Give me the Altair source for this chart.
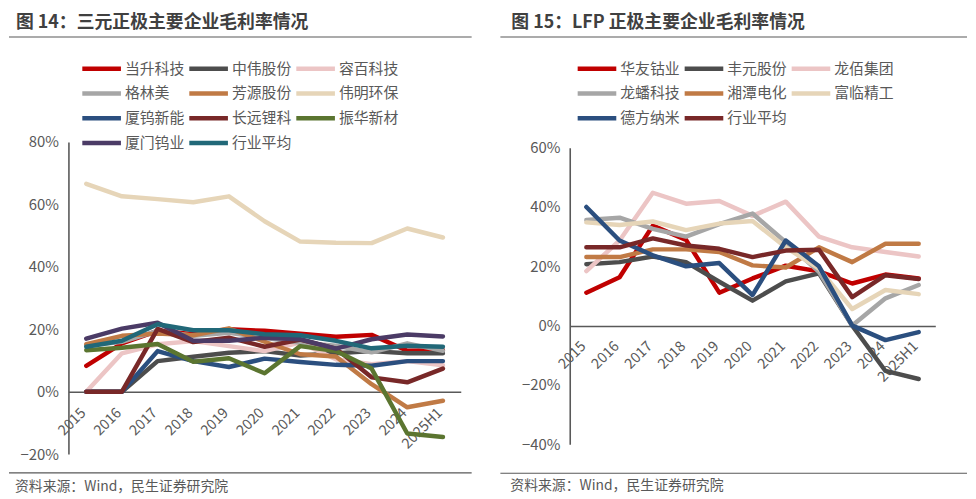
import altair as alt
import pandas as pd

FONT = "Noto Sans CJK SC"

years = ["2015", "2016", "2017", "2018", "2019", "2020", "2021", "2022", "2023", "2024", "2025H1"]

# ---------------- 图14 三元正极 ----------------
left_title = "图 14：三元正极主要企业毛利率情况"
left_names = ["当升科技", "中伟股份", "容百科技", "格林美", "芳源股份", "伟明环保",
              "厦钨新能", "长远锂科", "振华新材", "厦门钨业", "行业平均"]
left_colors = ["#C00000", "#4D4D4D", "#ECC5C5", "#A6A6A6", "#C07A45", "#E6D5B8",
               "#2B4F7F", "#782828", "#5B7530", "#4B3B66", "#216878"]
dangsheng = [8.3, 15.5, 19.5, 18.4, 20.0, 19.5, 18.6, 17.6, 18.2, 13.1, 13.3]
zhongwei = [0.0, 0.0, 9.8, 11.2, 12.5, 13.0, 11.6, 12.3, 13.0, 12.3, 12.3]
rongbai = [0.0, 12.3, 15.2, 16.2, 14.6, 13.0, 15.7, 10.4, 8.8, 9.8, 8.5]
gem = [14.7, 16.0, 19.5, 17.9, 18.9, 17.3, 15.7, 14.7, 12.6, 15.5, 13.1]
fangyuan = [15.2, 17.9, 18.6, 18.1, 20.3, 16.0, 12.0, 11.3, 2.4, -5.0, -2.9]
weiming = [66.6, 62.6, 61.7, 60.7, 62.6, 54.6, 48.1, 47.7, 47.6, 52.3, 49.4]
xiawu = [0.0, 0.0, 13.0, 9.8, 7.9, 10.6, 9.5, 8.6, 8.3, 9.8, 9.8]
changyuan = [0.0, 0.0, 20.1, 15.9, 17.3, 14.4, 16.7, 13.8, 4.6, 3.0, 7.4]
zhenhua = [13.3, 14.1, 15.3, 9.6, 10.7, 5.9, 14.6, 13.0, 7.4, -13.4, -14.5]
xiamen = [17.0, 20.2, 22.1, 16.3, 16.3, 17.3, 16.8, 13.8, 16.8, 18.3, 17.7]
left_avg = [14.4, 16.3, 21.6, 19.7, 19.7, 18.4, 18.1, 16.3, 13.9, 14.7, 14.4]
left_series = [dangsheng, zhongwei, rongbai, gem, fangyuan, weiming,
               xiawu, changyuan, zhenhua, xiamen, left_avg]
left_ticks = [-0.2, 0.0, 0.2, 0.4, 0.6, 0.8]

# ---------------- 图15 LFP 正极 ----------------
right_title = "图 15：LFP 正极主要企业毛利率情况"
right_names = ["华友钴业", "丰元股份", "龙佰集团", "龙蟠科技", "湘潭电化", "富临精工",
               "德方纳米", "行业平均"]
right_colors = ["#C00000", "#4D4D4D", "#ECC5C5", "#A6A6A6", "#C07A45", "#E6D5B8",
                "#2B4F7F", "#782828"]
huayou = [11.1, 16.3, 33.7, 28.9, 11.1, 15.9, 20.2, 18.3, 14.2, 17.2, 15.9]
fengyuan = [20.7, 21.4, 23.3, 21.4, 14.8, 8.4, 14.9, 17.6, 0.0, -15.3, -18.0]
longbai = [18.4, 28.7, 44.8, 41.1, 42.0, 37.0, 41.8, 30.0, 26.4, 24.8, 23.3]
longpan = [35.6, 36.4, 32.6, 30.0, 34.2, 37.8, 28.1, 18.1, 0.0, 9.2, 13.7]
xiangtan = [23.1, 23.1, 25.7, 25.7, 24.8, 20.3, 19.6, 26.4, 21.4, 27.6, 27.6]
fulin = [34.8, 33.9, 35.1, 32.2, 34.4, 35.3, 26.4, 19.2, 5.6, 12.0, 10.6]
defang = [40.0, 28.7, 23.7, 20.0, 21.1, 10.3, 28.7, 20.0, 0.0, -4.9, -2.2]
right_avg = [26.4, 26.4, 29.4, 27.0, 25.9, 23.1, 25.3, 25.6, 9.6, 17.0, 15.7]
right_series = [huayou, fengyuan, longbai, longpan, xiangtan, fulin, defang, right_avg]
right_ticks = [-0.4, -0.2, 0.0, 0.2, 0.4, 0.6]

source_text = "资料来源：Wind，民生证券研究院"


def long_df(names, series):
    rows = []
    for i, (n, vals) in enumerate(zip(names, series)):
        for y, v in zip(years, vals):
            rows.append({"name": n, "year": y, "value": v / 100.0, "k": i})
    return pd.DataFrame(rows)


def panel(title, names, colors, series, ticks, width, height, yrange, x_offset,
          title_xy, rule_x, rule_top, rule_bot, src_xy, legend_xy, label_pad):
    df = long_df(names, series)
    lines = alt.Chart(df).mark_line(strokeWidth=4.5, strokeJoin="round", strokeCap="round").encode(
        x=alt.X("year:N", sort=years,
                scale=alt.Scale(type="point", padding=0.5),
                axis=alt.Axis(title=None, labelAngle=-45, labelAlign="right", labelBaseline="middle",
                              offset=x_offset, ticks=False, labelPadding=label_pad, labelOffset=-3,
                              labelOverlap=False,
                              domainColor="#595959", domainWidth=1.6,
                              labelFont=FONT, labelFontSize=14.5, labelColor="#595959")),
        y=alt.Y("value:Q",
                scale=alt.Scale(domain=[ticks[0], ticks[-1]], nice=False, zero=False, range=yrange),
                axis=alt.Axis(title=None, values=ticks, format=".0%", grid=False, ticks=False,
                              labelPadding=10, domainColor="#595959", domainWidth=1.6,
                              labelFont=FONT, labelFontSize=15, labelColor="#595959")),
        color=alt.Color("name:N", sort=names,
                        scale=alt.Scale(domain=names, range=colors),
                        legend=alt.Legend(title=None, orient="none", direction="horizontal",
                                          legendX=legend_xy[0], legendY=legend_xy[1],
                                          columns=3, symbolType="M-2,0H2", symbolSize=380,
                                          symbolStrokeWidth=4.5, labelFont=FONT,
                                          labelFontSize=15, labelColor="#595959",
                                          labelOffset=11.5, columnPadding=-5, rowPadding=4,
                                          padding=0)),
        detail="k:O",
    )
    one = pd.DataFrame({"t": [title], "s": [source_text]})
    ttl = alt.Chart(one).mark_text(font=FONT, fontSize=18, fontWeight="bold", color="#404040",
                                   align="left", baseline="middle").encode(
        x=alt.value(title_xy[0]), y=alt.value(title_xy[1]), text="t:N")
    src = alt.Chart(one).mark_text(font=FONT, fontSize=14, color="#595959",
                                   align="left", baseline="middle").encode(
        x=alt.value(src_xy[0]), y=alt.value(src_xy[1]), text="s:N")
    r1 = alt.Chart(one).mark_rule(color="#595959", strokeWidth=1.2).encode(
        x=alt.value(rule_x[0]), x2=alt.value(rule_x[1]), y=alt.value(rule_top))
    r2 = alt.Chart(one).mark_rule(color="#595959", strokeWidth=1.2).encode(
        x=alt.value(rule_x[0]), x2=alt.value(rule_x[1]), y=alt.value(rule_bot))
    # invisible anchor that fixes the top edge of the panel
    anchor = alt.Chart(one).mark_rule(color="#ffffff", strokeWidth=1, strokeOpacity=0).encode(
        x=alt.value(rule_x[0]), x2=alt.value(rule_x[0] + 2), y=alt.value(-132.5))
    return alt.layer(anchor, r1, r2, ttl, src, lines).properties(width=width, height=height)


left = panel(left_title, left_names, left_colors, left_series, left_ticks,
             396, 315, [315, 0], -63,
             title_xy=(-53, -120), rule_x=(-60, 407), rule_top=-106, rule_bot=334,
             src_xy=(-54, 348), legend_xy=(21.5, -86), label_pad=19)
right = panel(right_title, right_names, right_colors, right_series, right_ticks,
              369, 305, [305, 5.7], -119.3,
              title_xy=(-59, -120), rule_x=(-70, 401), rule_top=-106, rule_bot=334.3,
              src_xy=(-60, 347.7), legend_xy=(15.5, -86), label_pad=18)

chart = alt.hconcat(left, right, spacing=27).resolve_scale(
    color="independent", x="independent", y="independent"
).resolve_legend(color="independent").properties(
    padding={"left": 0, "top": 0, "right": 0, "bottom": 0}
).configure_view(stroke=None)

chart.save("out.html", embed_options={"renderer": "svg", "actions": False})
